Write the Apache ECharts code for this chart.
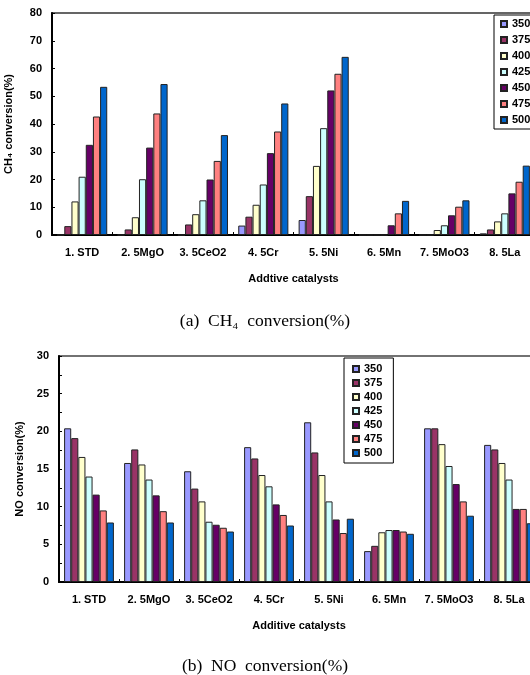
<!DOCTYPE html>
<html><head><meta charset="utf-8">
<script src="https://cdn.jsdelivr.net/npm/echarts@6/dist/echarts.min.js"></script>
<style>html,body{margin:0;padding:0;background:#fff}#c{width:530px;height:675px}</style>
</head><body><div id="c"></div>
<script>
const categories = ['1. STD','2. 5MgO','3. 5CeO2','4. 5Cr','5. 5Ni','6. 5Mn','7. 5MoO3','8. 5La'];
const temps = ['350','375','400','425','450','475','500'];
const colors = ['#9999FF','#993366','#FFFFCC','#CCFFFF','#660066','#FF8080','#0066CC'];
// CH4 conversion (%) per temperature, across categories
const ch4_350 = [0, 0, 0, 3.4, 5.4, 0, 0, 0.6];
const ch4_375 = [3.2, 2.0, 3.8, 6.6, 14.0, 0, 0, 2.0];
const ch4_400 = [12.1, 6.4, 7.5, 10.9, 24.9, 0, 1.8, 4.9];
const ch4_425 = [21.0, 20.1, 12.5, 18.2, 38.5, 0, 3.5, 7.8];
const ch4_450 = [32.5, 31.5, 20.0, 29.5, 52.1, 3.5, 7.1, 15.0];
const ch4_475 = [42.7, 43.8, 26.7, 37.3, 58.1, 7.8, 10.2, 19.2];
const ch4_500 = [53.4, 54.4, 36.0, 47.4, 64.2, 12.3, 12.5, 25.0];
// NO conversion (%)
const no_350 = [20.4, 15.8, 14.7, 17.9, 21.2, 4.1, 20.4, 18.2];
const no_375 = [19.1, 17.6, 12.4, 16.4, 17.2, 4.8, 20.4, 17.6];
const no_400 = [16.6, 15.6, 10.7, 14.2, 14.2, 6.6, 18.3, 15.8];
const no_425 = [14.0, 13.6, 8.0, 12.7, 10.7, 6.9, 15.4, 13.6];
const no_450 = [11.6, 11.5, 7.6, 10.3, 8.3, 6.9, 13.0, 9.7];
const no_475 = [9.5, 9.4, 7.2, 8.9, 6.5, 6.7, 10.7, 9.7];
const no_500 = [7.9, 7.9, 6.7, 7.5, 8.4, 6.4, 8.8, 7.8];
const yTicksCH4 = {min: 0, max: 80, interval: 10};
const yTicksNO = {min: 0, max: 30, interval: 5};

const ch4 = [ch4_350, ch4_375, ch4_400, ch4_425, ch4_450, ch4_475, ch4_500];
const no = [no_350, no_375, no_400, no_425, no_450, no_475, no_500];

const font = 'Liberation Sans, Arial, sans-serif';
const lbl = {fontFamily: font, fontWeight: 'bold', fontSize: 11, color: '#000'};

function xAxis(gi, name) {
  return {
    type: 'category', gridIndex: gi, data: categories,
    name: name, nameLocation: 'middle', nameGap: 38,
    nameTextStyle: Object.assign({}, lbl),
    axisLine: {lineStyle: {color: '#000', width: 2}},
    axisTick: {show: true, inside: true, length: 3, lineStyle: {color: '#000', width: 1}},
    axisLabel: Object.assign({margin: 12, interval: 0}, lbl),
    splitLine: {show: false}
  };
}
function yAxis(gi, ticks, name, gap, minor) {
  return {
    type: 'value', gridIndex: gi, min: ticks.min, max: ticks.max, interval: ticks.interval,
    name: name, nameLocation: 'middle', nameGap: gap, nameRotate: 90,
    nameTextStyle: Object.assign({}, lbl),
    axisLine: {show: true, lineStyle: {color: '#000', width: 2}},
    axisTick: {show: true, inside: true, length: 3, lineStyle: {color: '#000'}},
    minorTick: {show: minor, splitNumber: 2, length: 3, lineStyle: {color: '#000'}},
    axisLabel: Object.assign({margin: 10}, lbl),
    splitLine: {show: false}
  };
}

const series = [];
temps.forEach((t, i) => {
  series.push({
    name: t, type: 'bar', xAxisIndex: 0, yAxisIndex: 0, data: ch4[i],
    barGap: '0%', barCategoryGap: '17%',
    itemStyle: {color: colors[i], borderColor: '#222', borderWidth: 1}
  });
});
temps.forEach((t, i) => {
  series.push({
    name: t, type: 'bar', xAxisIndex: 1, yAxisIndex: 1, data: no[i],
    barGap: '0%', barCategoryGap: '17%',
    itemStyle: {color: colors[i], borderColor: '#222', borderWidth: 1}
  });
});

const legendBase = {
  orient: 'vertical', itemWidth: 6, itemHeight: 6, icon: 'rect',
  backgroundColor: '#fff', borderColor: '#000', borderWidth: 1,
  textStyle: Object.assign({lineHeight: 12}, lbl),
  selectedMode: false, data: temps
};

const chart = echarts.init(document.getElementById('c'), null, {renderer: 'canvas'});
chart.setOption({
  animation: false,
  backgroundColor: '#fff',
  grid: [
    {left: 52, top: 13, height: 222, right: -5, outerBoundsMode: 'none', containLabel: false, show: true, borderColor: '#333', borderWidth: 1.5, backgroundColor: 'transparent'},
    {left: 59, top: 356, height: 226, right: -9, outerBoundsMode: 'none', containLabel: false, show: true, borderColor: '#444', borderWidth: 1.5, backgroundColor: 'transparent'}
  ],
  xAxis: [xAxis(0, 'Addtive catalysts'), xAxis(1, 'Additive catalysts')],
  yAxis: [yAxis(0, yTicksCH4, 'CH\u2084 conversion(%)', 38, false), yAxis(1, yTicksNO, 'NO conversion(%)', 34, true)],
  legend: [
    Object.assign({}, legendBase, {left: 494, top: 15, padding: [3, 30, 3, 6], itemGap: 4}),
    Object.assign({}, legendBase, {left: 344, top: 358, padding: [5, 11, 4, 8], itemGap: 2})
  ],
  title: [
    {text: '(a)  CH\u2084  conversion(%)', left: 'center', top: 307, textStyle: {fontFamily: 'Liberation Serif, serif', fontWeight: 'normal', fontSize: 17.5, color: '#000'}},
    {text: '(b)  NO  conversion(%)', left: 'center', top: 652, textStyle: {fontFamily: 'Liberation Serif, serif', fontWeight: 'normal', fontSize: 17.5, color: '#000'}}
  ],
  series: series
});
</script>
</body></html>
